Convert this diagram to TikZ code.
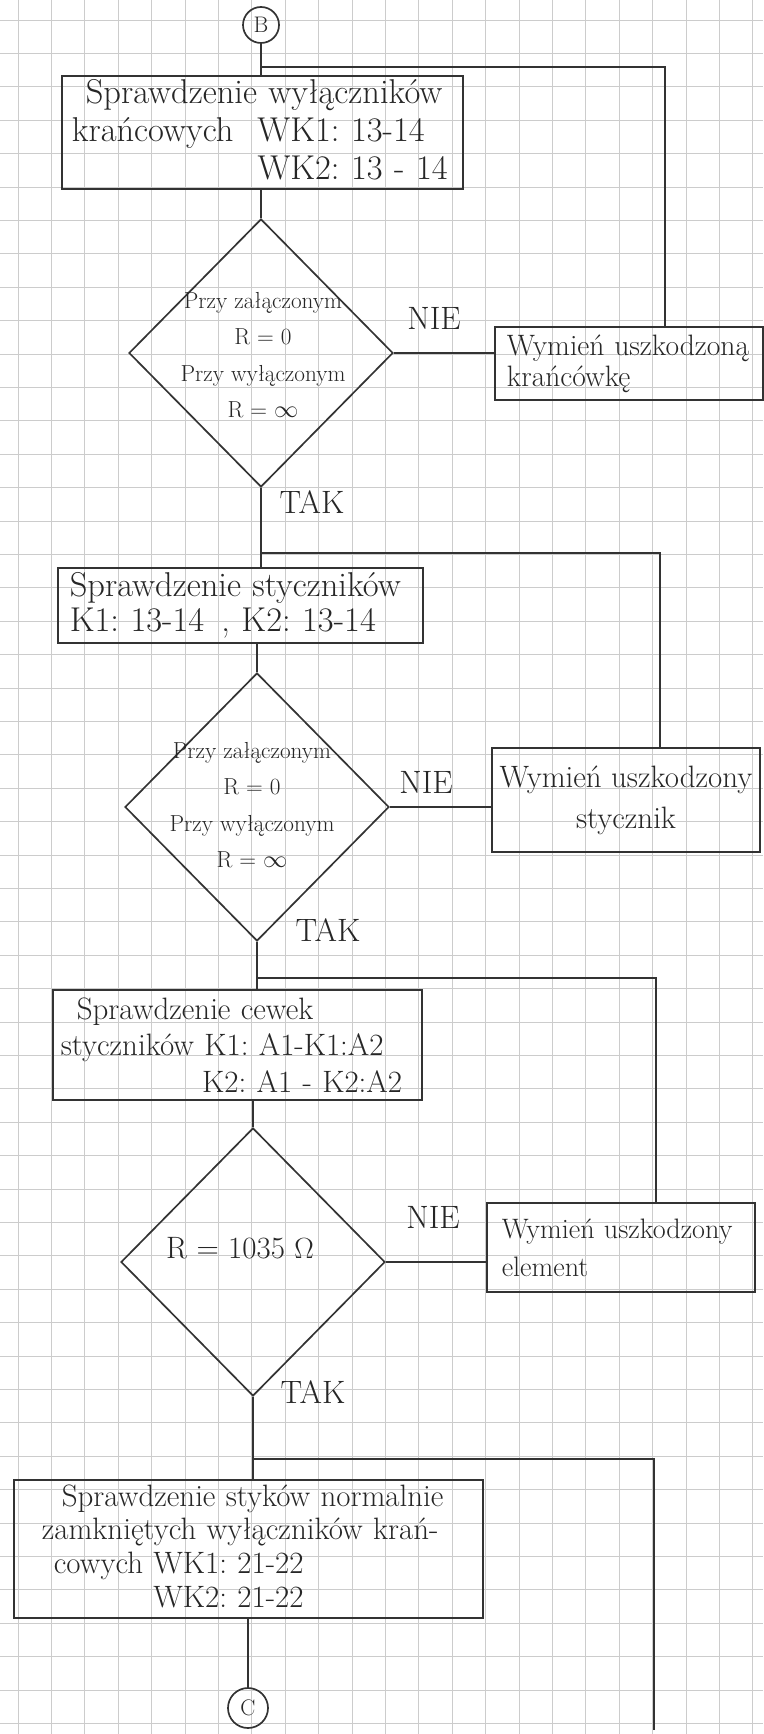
\documentclass[tikz,border=0pt]{standalone}
\usepackage{fontspec}
\usetikzlibrary{shapes.geometric,positioning}

\begin{document}
\begin{tikzpicture}[x=0.025cm,y=-0.025cm,line width=1.2pt,
    ink/.style={draw=black!80,text=black!85},
    box/.style={ink,rectangle,inner ysep=2pt,align=left,
      font=\fontsize{22}{26}\selectfont},
    test/.style={ink,diamond,minimum width=6.6cm,minimum height=6.7cm,inner sep=0pt},
    testtxt/.style={text=black!85,align=center,font=\fontsize{16.5}{26}\selectfont},
    conn/.style={ink,circle,inner sep=0pt,font=\fontsize{16}{16}\selectfont},
    lbl/.style={text=black!85,font=\fontsize{23}{23}\selectfont},
    gridln/.style={draw=black!20,line width=.6pt}]

      \useasboundingbox (0,0) rectangle (763,1734);
      \fill[white] (0,0) rectangle (763,1734);

      % squared paper
      \foreach \gx in {0,...,22}
        \draw[gridln] (18+33.4*\gx,0) -- (18+33.4*\gx,1734);
      \foreach \gy in {0,...,51}
        \draw[gridln] (0,20+33.4*\gy) -- (763,20+33.4*\gy);

      \begin{scope}[every node/.style={conn}]
        \node (B) at (261,25)   [minimum size=.9cm] {B};
        \node (C) at (248,1708) [minimum size=1cm]  {C};
      \end{scope}

      \begin{scope}[every node/.style={box}]
        \node (chk1) at (262.5,132.5) [minimum width=10.03cm,minimum height=2.63cm,
          inner xsep=.25cm,text width=9.53cm,font=\fontsize{24.5}{27}\selectfont]
          {\hspace*{.35cm}Sprawdzenie~wyłączników\\
           krańcowych\hspace{.6cm}WK1:~13-14\\
           \phantom{krańcowych}\hspace{.6cm}WK2:~13~-~14};
        \node (fix1) at (629,363.5) [minimum width=6.7cm,minimum height=1.83cm,
          inner xsep=.3cm,text width=6.1cm,font=\fontsize{21}{22}\selectfont]
          {\mbox{Wymień uszkodzoną}\\krańcówkę};
        \node (chk2) at (240.5,605.5) [minimum width=9.13cm,minimum height=1.88cm,
          inner xsep=.3cm,text width=8.53cm,font=\fontsize{24.5}{25}\selectfont]
          {Sprawdzenie~styczników\\K1:~13-14\enspace,~K2:~13-14};
        \node (fix2) at (626,800) [minimum width=6.7cm,minimum height=2.6cm,
          align=center,font=\fontsize{22}{29}\selectfont]
          {Wymień~uszkodzony\\stycznik};
        \node (chk3) at (237.5,1045) [minimum width=9.23cm,minimum height=2.75cm,
          inner xsep=.2cm,text width=8.83cm]
          {\hspace*{.4cm}Sprawdzenie~cewek\\
           styczników~K1:~A1-K1:A2\\
           \hfill K2:~A1~-~K2:A2\hspace*{.3cm}};
        \node (fix3) at (621,1247.5) [minimum width=6.7cm,minimum height=2.23cm,
          inner xsep=.37cm,text width=5.96cm,font=\fontsize{20}{27}\selectfont]
          {Wymień~uszkodzony\\element};
        \node (chk4) at (248.5,1549) [minimum width=11.73cm,minimum height=3.45cm,
          inner xsep=.7cm,text width=10.33cm,font=\fontsize{22}{24}\selectfont]
          {\hspace*{.5cm}Sprawdzenie~styków~normalnie\\
           zamkniętych~wyłączników~krań-\\
           \hspace*{.3cm}cowych~WK1:~21-22\\
           \hspace*{.3cm}\phantom{cowych~}WK2:~21-22};
      \end{scope}

      \begin{scope}[every node/.style={test}]
        \node (q1) at (261,353)  {};
        \node (q2) at (257,807)  {};
        \node (q3) at (253,1262) {};
      \end{scope}

      \node[testtxt] (q1t) at (263,355)
        {Przy~załączonym\\R = 0\\Przy~wyłączonym\\R = $\infty$};
      \node[testtxt] (q2t) at (252,805)
        {Przy~załączonym\\R = 0\\Przy~wyłączonym\\R = $\infty$};
      \node[testtxt,font=\fontsize{22}{22}\selectfont] (q3t) at (240,1248)
        {R = 1035 $\Omega$};

      \begin{scope}[every node/.style={lbl}]
        \node (nie1) at (434,318)  {NIE};
        \node (nie2) at (426,782)  {NIE};
        \node (nie3) at (433,1217) {NIE};
        \node (tak1) at (312,502)  {TAK};
        \node (tak2) at (328,930)  {TAK};
        \node (tak3) at (313,1392) {TAK};
      \end{scope}

      \coordinate (r1) at (665,67);
      \coordinate (r2) at (660,553);
      \coordinate (r3) at (656,978);
      \coordinate (r4) at (654,1459);
      \coordinate (r4e) at (654,1730);

      \begin{scope}[draw=black!80]
        \draw (B) -- (B |- chk1.north);
        \draw (q1.north |- chk1.south) -- (q1.north);
        \draw (q1.east) -- (q1.east -| fix1.west);
        \draw (r1 |- fix1.north) -- (r1) -- (r1 -| B);
        \draw (q1.south) -- (q1.south |- chk2.north);
        \draw (r2 |- fix2.north) -- (r2) -- (r2 -| q1.south);
        \draw (q2.north |- chk2.south) -- (q2.north);
        \draw (q2.east) -- (q2.east -| fix2.west);
        \draw (q2.south) -- (q2.south |- chk3.north);
        \draw (r3 |- fix3.north) -- (r3) -- (r3 -| q2.south);
        \draw (q3.north |- chk3.south) -- (q3.north);
        \draw (q3.east) -- (q3.east -| fix3.west);
        \draw (q3.south) -- (q3.south |- chk4.north);
        \draw (r4e) -- (r4) -- (r4 -| q3.south);
        \draw (C.north |- chk4.south) -- (C);
      \end{scope}

\end{tikzpicture}
\end{document}
